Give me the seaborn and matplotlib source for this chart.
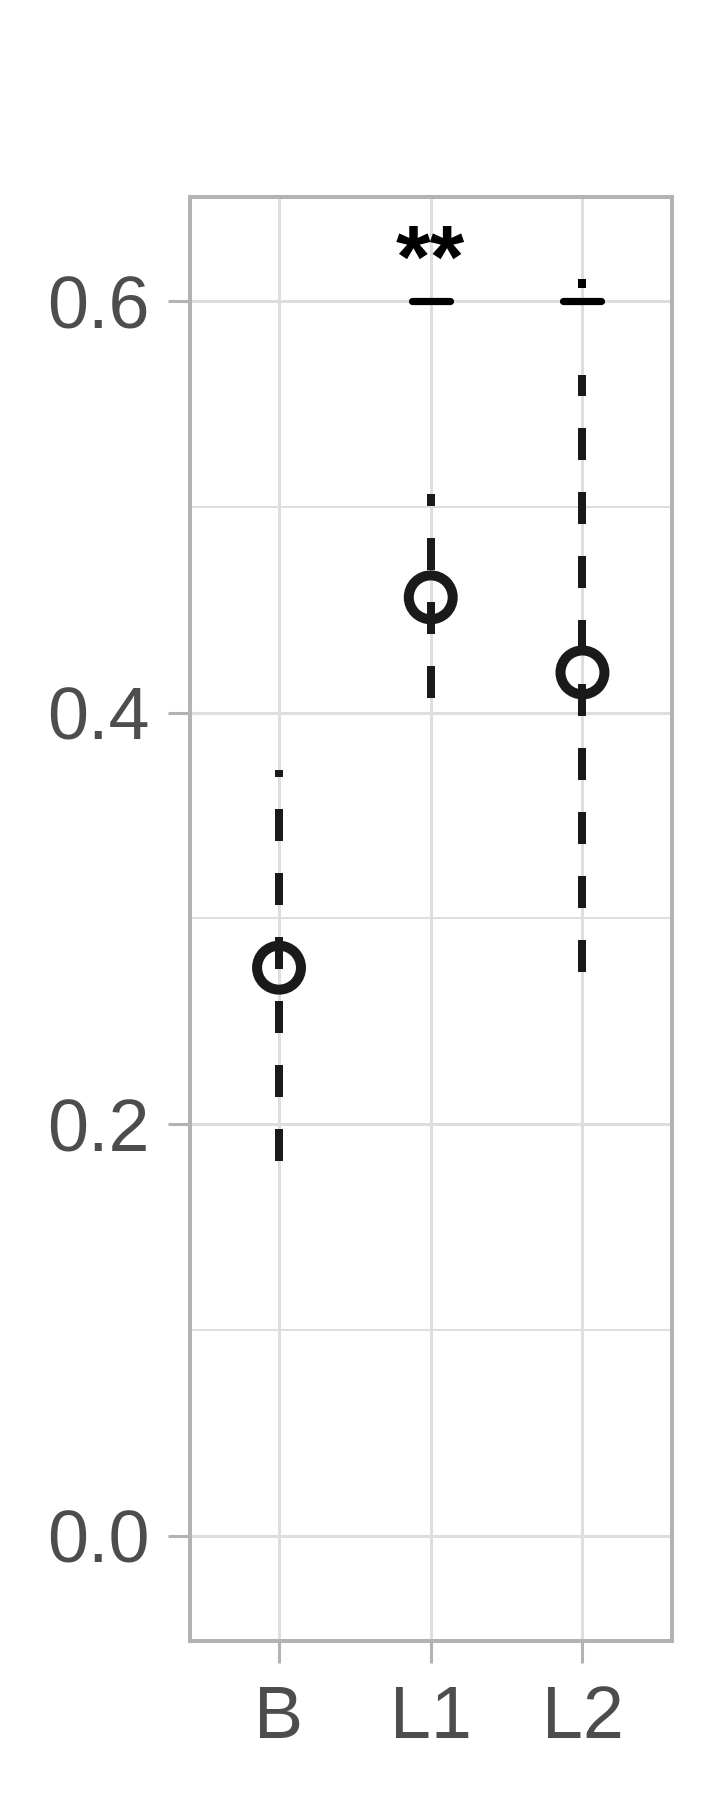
import seaborn as sns
import matplotlib.pyplot as plt

# values
groups = ["B", "L1", "L2"]
centre = [0.276, 0.456, 0.4195]
low = [0.182, 0.407, 0.274]
high = [0.372, 0.506, 0.564]

cap_groups = ["L1", "L2"]
cap_value = [0.6, 0.6]

# small leftover piece of the L2 interval above its cap
stub_groups = ["L2"]
stub_low = [0.6065]
stub_high = [0.6105]

star_group = "L1"
star_value = 0.607
star_text = "**"

yticks = [0.0, 0.2, 0.4, 0.6]
ytick_labels = ["0.0", "0.2", "0.4", "0.6"]
yminor = [0.1, 0.3, 0.5]

ink = "#1a1a1a"
border = "#b3b3b3"
grid = "#dedede"

sns.set_theme(style="whitegrid")
plt.rcParams['font.family'] = ['Liberation Sans', 'DejaVu Sans']

fig = plt.figure(figsize=(7.2, 18), dpi=100)
ax = fig.add_axes([0.2632, 0.0883, 0.6701, 0.8025])

pos = {g: i for i, g in enumerate(groups)}

# dashed intervals
ax.vlines([pos[g] for g in groups], low, high, colors=ink, linewidth=5.76,
          linestyles=(0, (4, 4)), zorder=3)
ax.vlines([pos[g] for g in stub_groups], stub_low, stub_high, colors="black",
          linewidth=5.76, zorder=3)

# open circles
sns.scatterplot(x=[pos[g] for g in groups], y=centre, ax=ax, marker="o", s=1000,
                facecolor="none", edgecolor=ink, linewidth=7.2, zorder=4)

# caps at 0.6
sns.scatterplot(x=[pos[g] for g in cap_groups], y=cap_value, ax=ax, marker="_",
                s=720, color="black", linewidth=5.2, zorder=4)
ax.collections[-1].set_capstyle("round")

ax.text(pos[star_group], star_value, star_text, ha="center", va="baseline",
        fontsize=64, fontweight="bold", color="black")

ax.set_xlim(-0.59, 2.59)
ax.set_ylim(-0.0513, 0.6508)
ax.set_xticks(range(len(groups)))
ax.set_xticklabels(groups)
ax.set_yticks(yticks)
ax.set_yticklabels(ytick_labels)
ax.set_yticks(yminor, minor=True)
ax.set_xlabel("")
ax.set_ylabel("")

ax.grid(True, which="major", color=grid, linewidth=2.2)
ax.grid(True, which="minor", axis="y", color=grid, linewidth=1.4)
ax.set_axisbelow(True)

for s in ax.spines.values():
    s.set_visible(True)
    s.set_color(border)
    s.set_linewidth(2.9)

ax.tick_params(axis="both", which="major", length=16, width=2.2, color=border,
               labelsize=53, labelcolor="#4d4d4d", bottom=True, left=True)
ax.tick_params(axis="y", which="major", pad=13)
ax.tick_params(axis="x", which="major", pad=15)
ax.tick_params(which="minor", length=0)

fig.savefig("out.png", dpi=100)
